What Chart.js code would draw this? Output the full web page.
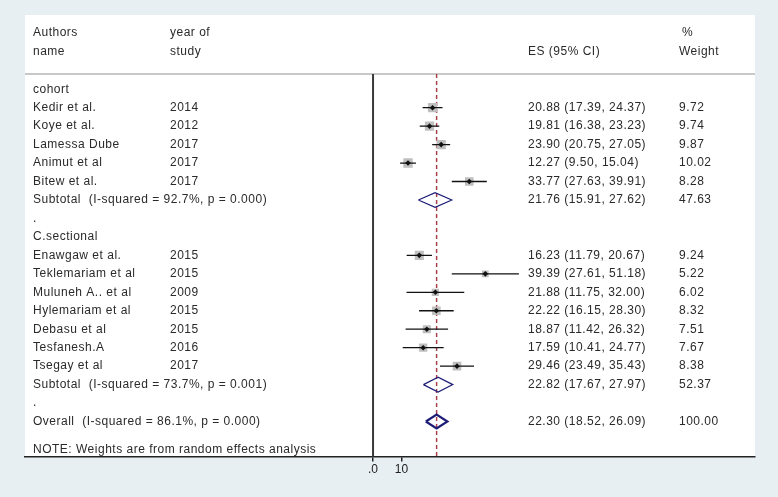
<!DOCTYPE html>
<html>
<head>
<meta charset="utf-8">
<script src="https://cdn.jsdelivr.net/npm/chart.js@4/dist/chart.umd.min.js"></script>
<style>
  html, body { margin: 0; padding: 0; background: #e8eff2; }
  #wrap { width: 778px; height: 497px; }
</style>
</head>
<body>
<div id="wrap"><canvas id="chart_forest" width="778" height="497"></canvas></div>
<script>
// cohort studies
const cohortNames = ['Kedir et al.', 'Koye et al.', 'Lamessa Dube', 'Animut et al', 'Bitew et al.'];
const cohortYears = ['2014', '2012', '2017', '2017', '2017'];
const cohortES = [20.88, 19.81, 23.90, 12.27, 33.77];
const cohortLo = [17.39, 16.38, 20.75, 9.50, 27.63];
const cohortHi = [24.37, 23.23, 27.05, 15.04, 39.91];
const cohortWeights = [9.72, 9.74, 9.87, 10.02, 8.28];

// cross-sectional studies
const csNames = ['Enawgaw et al.', 'Teklemariam et al', 'Muluneh A.. et al', 'Hylemariam et al', 'Debasu et al', 'Tesfanesh.A', 'Tsegay et al'];
const csYears = ['2015', '2015', '2009', '2015', '2015', '2016', '2017'];
const csES = [16.23, 39.39, 21.88, 22.22, 18.87, 17.59, 29.46];
const csLo = [11.79, 27.61, 11.75, 16.15, 11.42, 10.41, 23.49];
const csHi = [20.67, 51.18, 32.00, 28.30, 26.32, 24.77, 35.43];
const csWeights = [9.24, 5.22, 6.02, 8.32, 7.51, 7.67, 8.38];

// pooled estimates: cohort subtotal, c.sectional subtotal, overall
const pooledLabels = ['Subtotal  (I-squared = 92.7%, p = 0.000)', 'Subtotal  (I-squared = 73.7%, p = 0.001)', 'Overall  (I-squared = 86.1%, p = 0.000)'];
const pooledES = [21.76, 22.82, 22.30];
const pooledLo = [15.91, 17.67, 18.52];
const pooledHi = [27.62, 27.97, 26.09];
const pooledWeights = [47.63, 52.37, 100.00];

const xTicks = [0, 10];
const noteText = 'NOTE: Weights are from random effects analysis';

// row layout (row index on the y scale)
const cohortRows = cohortNames.map((_, i) => 1 + i);
const csRows = csNames.map((_, i) => 9 + i);
const pooledRows = [6, 16, 18];

const FONT = '12px "Liberation Sans", Arial, sans-serif';
const TEXT = '#2a2a2a';

const studyES = cohortES.concat(csES);
const studyLo = cohortLo.concat(csLo);
const studyHi = cohortHi.concat(csHi);
const studyW = cohortWeights.concat(csWeights);
const studyRows = cohortRows.concat(csRows);

const fmt = (e, l, h) => `${e.toFixed(2)} (${l.toFixed(2)}, ${h.toFixed(2)})`;

const datasets = [];

// zero line and pooled (overall) dashed line
datasets.push({
    order: 6,
    data: [{ x: 0, y: -0.83 }, { x: 0, y: 20 }],
    showLine: true, pointRadius: 0, borderColor: '#3a3a3a', borderWidth: 2
});
datasets.push({
    order: 5,
    data: [{ x: pooledES[2], y: -0.83 }, { x: pooledES[2], y: 20 }],
    showLine: true, pointRadius: 0, borderColor: '#a8404c', borderWidth: 1.5, borderDash: [4, 3]
});

// weight boxes
datasets.push({
    order: 4,
    data: studyES.map((e, i) => ({ x: e, y: studyRows[i] })),
    pointStyle: 'rect',
    pointRadius: studyW.map(w => 2.1 * Math.sqrt(w)),
    backgroundColor: '#bfbfbf', borderWidth: 0
});

// confidence intervals
studyES.forEach((e, i) => {
    datasets.push({
        order: 2,
        data: [{ x: studyLo[i], y: studyRows[i] }, { x: studyHi[i], y: studyRows[i] }],
        showLine: true, pointRadius: 0, borderColor: '#111111', borderWidth: 1.3
    });
});

// point estimates
datasets.push({
    order: 0,
    data: studyES.map((e, i) => ({ x: e, y: studyRows[i] })),
    pointStyle: 'rectRot', pointRadius: 2.8,
    backgroundColor: '#111111', borderWidth: 0
});

// pooled diamonds
pooledES.forEach((e, i) => {
    const r = pooledRows[i];
    const h = i === 2 ? 0.38 : 0.4;
    datasets.push({
        order: 1,
        data: [
            { x: pooledLo[i], y: r }, { x: e, y: r - h },
            { x: pooledHi[i], y: r }, { x: e, y: r + h },
            { x: pooledLo[i], y: r }
        ],
        showLine: true, pointRadius: 0, tension: 0,
        borderColor: '#1e1e78', borderWidth: i === 2 ? 2.2 : 1.2
    });
});

const tablePlugin = {
    id: 'forestTable',
    beforeDraw(chart) {
        const { ctx, chartArea: a } = chart;
        ctx.save();
        ctx.fillStyle = '#e8eff2';
        ctx.fillRect(0, 0, chart.width, chart.height);
        ctx.fillStyle = '#ffffff';
        ctx.fillRect(a.left, a.top, a.right - a.left, a.bottom - a.top);
        // header rule
        const yh = chart.scales.y.getPixelForValue(-0.83);
        ctx.strokeStyle = '#c8c8c8';
        ctx.lineWidth = 2;
        ctx.beginPath();
        ctx.moveTo(a.left, yh);
        ctx.lineTo(a.right, yh);
        ctx.stroke();
        ctx.restore();
    },
    afterDraw(chart) {
        const { ctx } = chart;
        const y = chart.scales.y;
        const put = (txt, x, row) => ctx.fillText(txt, x, y.getPixelForValue(row));
        ctx.save();
        ctx.font = FONT;
        ctx.fillStyle = TEXT;
        ctx.textBaseline = 'middle';
        ctx.letterSpacing = '0.5px';

        put('Authors', 33, -3.05); put('name', 33, -2.02);
        put('year of', 170, -3.05); put('study', 170, -2.02);
        put('ES (95% CI)', 528, -2.02);
        put('%', 682, -3.05); put('Weight', 679, -2.02);

        put('cohort', 33, 0);
        put('.', 33, 7);
        put('C.sectional', 33, 8);
        put('.', 33, 17);

        cohortNames.forEach((n, i) => {
            put(n, 33, cohortRows[i]);
            put(cohortYears[i], 170, cohortRows[i]);
            put(fmt(cohortES[i], cohortLo[i], cohortHi[i]), 528, cohortRows[i]);
            put(cohortWeights[i].toFixed(2), 679, cohortRows[i]);
        });
        csNames.forEach((n, i) => {
            put(n, 33, csRows[i]);
            put(csYears[i], 170, csRows[i]);
            put(fmt(csES[i], csLo[i], csHi[i]), 528, csRows[i]);
            put(csWeights[i].toFixed(2), 679, csRows[i]);
        });
        pooledLabels.forEach((l, i) => {
            put(l, 33, pooledRows[i]);
            put(fmt(pooledES[i], pooledLo[i], pooledHi[i]), 528, pooledRows[i]);
            put(pooledWeights[i].toFixed(2), 679, pooledRows[i]);
        });
        put(noteText, 33, 19.5);
        ctx.restore();
    }
};

new Chart(document.getElementById('chart_forest'), {
    type: 'scatter',
    data: { datasets: datasets },
    options: {
        responsive: false,
        animation: false,
        events: [],
        layout: { padding: { left: 25, right: 23, top: 15, bottom: 19 } },
        plugins: { legend: { display: false }, tooltip: { enabled: false } },
        scales: {
            x: {
                type: 'linear',
                min: -122.1,
                max: 134.0,
                afterBuildTicks: (axis) => { axis.ticks = xTicks.map(v => ({ value: v })); },
                ticks: {
                    autoSkip: false,
                    maxRotation: 0,
                    padding: 1,
                    color: '#222222',
                    font: { size: 12, family: '"Liberation Sans", Arial, sans-serif' },
                    callback: (v) => v === 0 ? '.0' : String(v)
                },
                grid: { drawOnChartArea: false, drawTicks: true, tickLength: 5, color: '#222222', lineWidth: 1.5 },
                border: { display: true, color: '#222222', width: 1.5 }
            },
            y: {
                type: 'linear',
                display: false,
                reverse: true,
                min: -4.02,
                max: 19.9
            }
        }
    },
    plugins: [tablePlugin]
});
</script>
</body>
</html>
